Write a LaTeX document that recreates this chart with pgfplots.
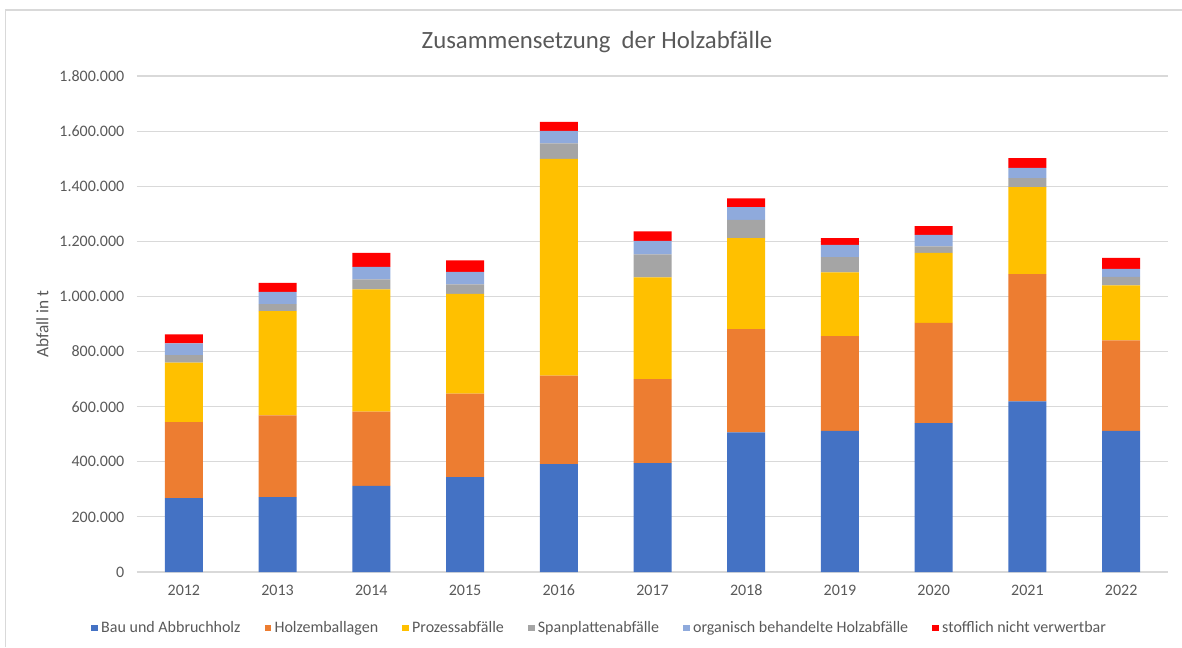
\documentclass[border=0pt]{standalone}
\usepackage{pgfplots}
\pgfplotsset{compat=1.18}
\usepackage{pgfplotstable}
\usepackage{fontspec}
\setmainfont{Carlito}
\definecolor{cBau}{HTML}{4472C4}
\definecolor{cHolz}{HTML}{ED7D31}
\definecolor{cProz}{HTML}{FFC000}
\definecolor{cSpan}{HTML}{A5A5A5}
\definecolor{cOrg}{HTML}{8FAADC}
\definecolor{cStoff}{HTML}{FF0000}
\definecolor{txt}{HTML}{595959}
\definecolor{gridc}{HTML}{D9D9D9}
\pgfplotstableread{
x bau holz proz span org stoff
0 268500 275700 215200 27900 42400 32700
1 272000 296500 378400 25400 44700 32600
2 313000 268600 444000 36300 45700 50800
3 344700 302200 362800 34100 45700 41400
4 391800 320400 787300 55800 45700 32700
5 395500 304700 369000 83400 49400 34100
6 506800 374800 330200 66300 46100 31600
7 512600 343600 231100 55500 44600 24400
8 540600 363900 253900 23200 42100 31600
9 619300 461800 315700 32600 37400 35200
10 512600 328000 199600 31200 29000 39900
}\datatable
\begin{document}
\begin{tikzpicture}
\path[use as bounding box] (0pt,0pt) rectangle (886.5pt,485.25pt);
\draw[gridc, line width=1.2pt] (4.1pt,0pt) -- (4.1pt,477.75pt) -- (886.5pt,477.75pt);
\node[font=\fontsize{18.6}{22}\selectfont, text=txt] at (447.75pt,453.75pt) {Zusammensetzung\ \ der Holzabfälle};
\begin{axis}[
  at={(102.75pt,56.25pt)}, anchor=south west,
  scale only axis,
  width=773.25pt, height=372pt,
  ybar stacked, bar width=28.5pt,
  xmin=-0.5, xmax=10.5,
  ymin=0, ymax=1800000,
  ytick={0,200000,...,1800000},
  xtick={0,...,10},
  xticklabels={2012,2013,2014,2015,2016,2017,2018,2019,2020,2021,2022},
  major tick length=0pt,
  axis line style={draw=none},
  ymajorgrids, grid style={gridc, line width=0.9pt},
  scaled y ticks=false,
  /pgf/number format/fixed,
  /pgf/number format/1000 sep={.},
  /pgf/number format/assume math mode=true,
  yticklabel style={font=\fontsize{12}{14}\selectfont, text=txt, xshift=-6pt},
  xticklabel style={font=\fontsize{12}{14}\selectfont, text=txt, yshift=-6pt},
  ylabel={Abfall in t},
  ylabel style={at={([xshift=-71pt]axis description cs:0,0.5)}, anchor=center, font=\fontsize{13}{15}\selectfont, text=txt},
  legend style={at={(axis description cs:0.449,-0.113)}, anchor=center, draw=none, fill=none,
    legend columns=6, font=\fontsize{12}{14}\selectfont, text=txt,
    /tikz/every even column/.append style={column sep=16pt},
    /tikz/every odd column/.append style={column sep=0.5pt}},
  legend image code/.code={\fill[#1] (0pt,-2.5pt) rectangle (5pt,2.5pt);},
  every axis plot/.append style={draw=none},
]
\addplot[fill=cBau] table[x=x,y=bau]{\datatable};
\addplot[fill=cHolz] table[x=x,y=holz]{\datatable};
\addplot[fill=cProz] table[x=x,y=proz]{\datatable};
\addplot[fill=cSpan] table[x=x,y=span]{\datatable};
\addplot[fill=cOrg] table[x=x,y=org]{\datatable};
\addplot[fill=cStoff] table[x=x,y=stoff]{\datatable};
\legend{Bau und Abbruchholz,Holzemballagen,Prozessabfälle,Spanplattenabfälle,organisch behandelte Holzabfälle,stofflich nicht verwertbar}
\end{axis}
\end{tikzpicture}
\end{document}
